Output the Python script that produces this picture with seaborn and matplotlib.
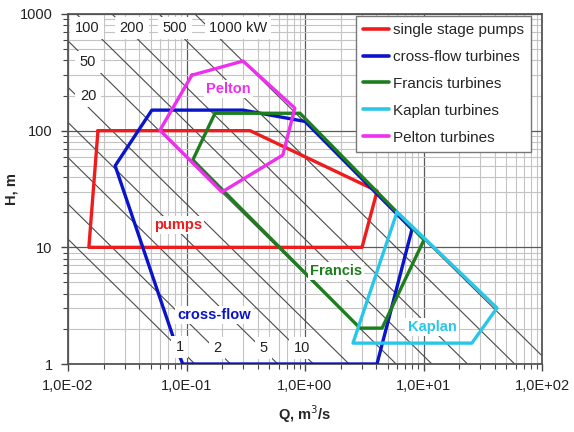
import numpy as np
import pandas as pd
import matplotlib
matplotlib.use("Agg")
import matplotlib.pyplot as plt
import seaborn as sns
from matplotlib.ticker import FixedLocator, FixedFormatter, LogLocator, NullFormatter

# ---------------- data ----------------
series_names = ["single stage pumps", "cross-flow turbines", "Francis turbines",
                "Kaplan turbines", "Pelton turbines"]
series_colors = ["#ee1c1c", "#0a14c8", "#1e7d1e", "#2ac6ea", "#ee30ee"]

pumps_Q = [0.0179, 0.344, 4.06, 3.03, 0.0150, 0.0179]
pumps_H = [100, 100, 30.4, 10, 10, 100]

crossflow_Q = [0.088, 0.093, 4.05, 8.0, 1.0, 0.30, 0.051, 0.025, 0.088]
crossflow_H = [1.15, 1.0, 1.0, 14.3, 120, 150, 150, 50, 1.15]

francis_Q = [0.174, 0.907, 10.1, 4.47, 2.91, 0.113, 0.174]
francis_H = [141, 141, 11.6, 2.03, 2.03, 56, 141]

kaplan_Q = [5.98, 41.7, 25.6, 2.54, 5.98]
kaplan_H = [20.1, 3.02, 1.51, 1.51, 20.1]

pelton_Q = [0.111, 0.30, 0.82, 0.65, 0.199, 0.0597, 0.111]
pelton_H = [299, 395, 156, 61.8, 29.8, 101, 299]

power_kW = [1, 2, 5, 10, 20, 50, 100, 200, 500, 1000]
power_coef = 8.5  # kW per (m3/s * m)

x_ticks = [0.01, 0.1, 1, 10, 100]
x_ticklabels = ["1,0E-02", "1,0E-01", "1,0E+00", "1,0E+01", "1,0E+02"]
y_ticks = [1, 10, 100, 1000]
y_ticklabels = ["1", "10", "100", "1000"]

# ---------------- table ----------------
frames = []
for name, q, h in zip(series_names,
                      [pumps_Q, crossflow_Q, francis_Q, kaplan_Q, pelton_Q],
                      [pumps_H, crossflow_H, francis_H, kaplan_H, pelton_H]):
    frames.append(pd.DataFrame({"Q": q, "H": h, "series": name,
                                "order": range(len(q))}))
df = pd.concat(frames, ignore_index=True)

# ---------------- figure ----------------
sns.set_theme(style="white")
plt.rcParams["font.family"] = ["Liberation Sans", "DejaVu Sans"]

fig = plt.figure(figsize=(5.74, 4.32), dpi=100)
ax = fig.add_axes([68 / 574, 1 - 364 / 432, (542 - 68) / 574, (364 - 14) / 432])
ax.set_xscale("log")
ax.set_yscale("log")
ax.set_xlim(0.01, 100)
ax.set_ylim(1, 1000)

# grid
ax.grid(True, which="major", color="#5a5a5a", lw=0.9, zorder=0)
ax.grid(True, which="minor", color="#c4c4c4", lw=0.8, zorder=0)
ax.set_axisbelow(True)

# power lines
qq = np.array([0.01, 100.0])
for p in power_kW:
    ax.plot(qq, p / (power_coef * qq), color="#4a4a4a", lw=0.8, zorder=1)

# polygons
sns.lineplot(data=df, x="Q", y="H", hue="series", units="series",
             estimator=None, sort=False, hue_order=series_names,
             palette=dict(zip(series_names, series_colors)),
             lw=2.4, ax=ax, zorder=3)

ax.set_xlim(0.01, 100)
ax.set_ylim(1, 1000)

# ticks
ax.xaxis.set_major_locator(FixedLocator(x_ticks))
ax.xaxis.set_major_formatter(FixedFormatter(x_ticklabels))
ax.yaxis.set_major_locator(FixedLocator(y_ticks))
ax.yaxis.set_major_formatter(FixedFormatter(y_ticklabels))
ax.xaxis.set_minor_locator(LogLocator(base=10, subs=np.arange(2, 10)))
ax.yaxis.set_minor_locator(LogLocator(base=10, subs=np.arange(2, 10)))
ax.xaxis.set_minor_formatter(NullFormatter())
ax.yaxis.set_minor_formatter(NullFormatter())
ax.tick_params(which="major", direction="out", length=5, width=1, color="#444444",
               labelsize=10.5, labelcolor="#222222", pad=6,
               bottom=True, left=True)
ax.tick_params(which="minor", direction="out", length=3.5, width=0.8, color="#444444",
               bottom=True, left=True)

for s in ax.spines.values():
    s.set_color("#555555")
    s.set_linewidth(1.3)

ax.set_xlabel("Q, m$^3$/s", fontsize=10.5, fontweight="bold", labelpad=7)
ax.set_ylabel("H, m", fontsize=10.5, fontweight="bold", labelpad=1)

# labels
box = dict(boxstyle="square,pad=0.15", fc="white", ec="none")
region_labels = [
    ("Pelton", 0.224, 227, series_colors[4]),
    ("pumps", 0.0847, 15.5, series_colors[0]),
    ("cross-flow", 0.171, 2.63, series_colors[1]),
    ("Francis", 1.83, 6.27, series_colors[2]),
    ("Kaplan", 11.8, 2.07, series_colors[3]),
]
for t, x, y, c in region_labels:
    ax.text(x, y, t, color=c, fontsize=10.5, fontweight="bold", ha="center",
            va="center", bbox=box, zorder=5)

power_labels = [
    ("100", 0.01446, 757), ("200", 0.0347, 757), ("500", 0.080, 757),
    ("1000 kW", 0.272, 757), ("50", 0.01474, 387), ("20", 0.01474, 198),
    ("1", 0.088, 1.40), ("2", 0.181, 1.37), ("5", 0.443, 1.37), ("10", 0.944, 1.37),
]
box2 = dict(boxstyle="square,pad=0.3", fc="white", ec="none")
for t, x, y in power_labels:
    ax.text(x, y, t, color="#222222", fontsize=10.5, ha="center", va="center",
            bbox=box2, zorder=5)

leg = ax.legend(loc="upper right", bbox_to_anchor=((531 - 68) / 474, (364 - 16) / 350),
                fontsize=11, frameon=True, fancybox=False,
                edgecolor="#777777", framealpha=1, borderaxespad=0,
                handlelength=1.7, handletextpad=0.3, labelspacing=0.85,
                borderpad=0.45, title=None)
leg.get_frame().set_linewidth(1.0)
leg.set_zorder(6)
for line in leg.get_lines():
    line.set_linewidth(2.6)

fig.savefig("out.png", dpi=100)
